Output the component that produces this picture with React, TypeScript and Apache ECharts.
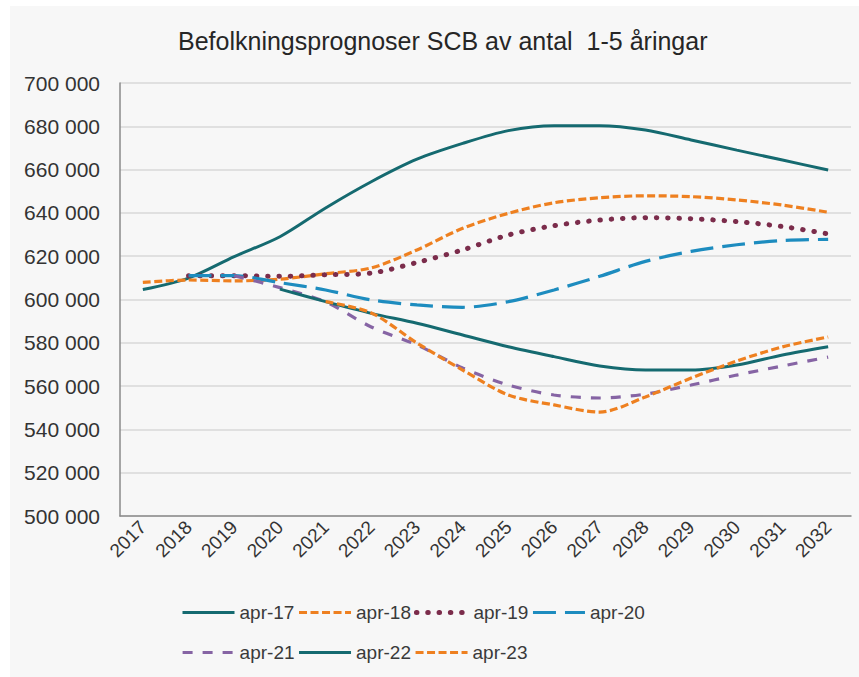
import React, { useEffect, useRef } from "react";
import * as echarts from "echarts";

const years = ["2017","2018","2019","2020","2021","2022","2023","2024","2025","2026","2027","2028","2029","2030","2031","2032"];
const seriesNames = ["apr-17","apr-18","apr-19","apr-20","apr-21","apr-22","apr-23"];

const apr17 = [604600, 609900, 619800, 629000, 642300, 654400, 664800, 672100, 678000, 680300, 680300, 678300, 673700, 669000, 664400, 659800];
const apr18 = [607900, 609000, 608600, 609400, 611900, 614600, 622900, 632900, 639800, 644700, 647000, 647900, 647500, 646000, 643600, 640300];
const apr19 = [null, 611000, 611000, 610700, 611400, 612200, 617100, 622900, 629800, 634100, 636700, 637800, 637300, 636000, 633700, 630300];
const apr20 = [null, 611000, 611000, 607800, 604400, 599800, 597500, 596400, 599000, 604400, 610700, 617600, 622200, 625300, 627200, 627800];
const apr21 = [null, null, 611000, 605500, 598900, 587300, 579000, 568400, 560500, 555900, 554500, 556300, 560500, 565100, 569300, 573400];
const apr22 = [null, null, null, 604800, 599000, 593600, 589000, 583600, 578200, 573600, 569300, 567400, 567400, 569700, 574400, 578200];
const apr23 = [null, null, null, null, 599000, 593800, 579900, 567400, 555900, 551300, 548000, 555000, 563700, 571600, 578100, 582700];

const FONT = "'Liberation Sans', Arial, sans-serif";
const TEAL = "#156a70";
const ORANGE = "#ee8020";
const MAROON = "#7b2c4b";
const BLUE = "#1d8cbf";
const PURPLE = "#8664a4";

const styles: Record<string, { color: string; width: number; type: any; cap: any }> = {
  "apr-17": { color: TEAL, width: 3, type: "solid", cap: "butt" },
  "apr-18": { color: ORANGE, width: 3.2, type: [8, 3.5], cap: "butt" },
  "apr-19": { color: MAROON, width: 5, type: [0.5, 10.8], cap: "round" },
  "apr-20": { color: BLUE, width: 3.2, type: [23, 9], cap: "butt" },
  "apr-21": { color: PURPLE, width: 3.2, type: [10, 10], cap: "butt" },
  "apr-22": { color: TEAL, width: 3, type: "solid", cap: "butt" },
  "apr-23": { color: ORANGE, width: 3.2, type: [8, 3.5], cap: "butt" },
};

export default function App() {
  const ref = useRef<HTMLDivElement>(null);
  useEffect(() => {
    if (!ref.current) return;
    const chart = echarts.init(ref.current, undefined, { renderer: "svg" });
    const mk = (name: string, data: (number | null)[]) => {
      const s = styles[name];
      return {
        name,
        type: "line",
        data,
        smooth: 0.3,
        symbol: "none",
        showSymbol: false,
        connectNulls: false,
        itemStyle: { color: s.color },
        lineStyle: { color: s.color, width: s.width, type: s.type, cap: s.cap },
      };
    };
    const legendItem = (name: string) => {
      const s = styles[name];
      return { name, lineStyle: { color: s.color, width: s.width, type: s.type, cap: s.cap } };
    };
    const legendBase = {
      left: 176,
      itemWidth: 52,
      itemHeight: 14,
      itemGap: 3,
      itemStyle: { opacity: 0 },
      textStyle: { fontFamily: FONT, fontSize: 19, color: "#3a3a3a" },
    };
    chart.setOption({
      animation: false,
      backgroundColor: "transparent",
      title: {
        text: "Befolkningsprognoser SCB av antal  1-5 åringar",
        left: 173,
        top: 23,
        textStyle: { fontFamily: FONT, fontSize: 25, fontWeight: "normal", color: "#262626" },
      },
      legend: [
        { ...legendBase, top: 598, data: seriesNames.slice(0, 4).map(legendItem) },
        { ...legendBase, top: 638, data: seriesNames.slice(4).map(legendItem) },
      ],
      grid: { left: 120, right: 8, top: 83, bottom: 161 },
      xAxis: {
        type: "category",
        data: years,
        boundaryGap: true,
        axisLine: { show: true, lineStyle: { color: "#8a8a8a", width: 1.5 } },
        axisTick: { show: false },
        axisLabel: { rotate: 45, fontFamily: FONT, fontSize: 19, color: "#333", margin: 8, interval: 0 },
      },
      yAxis: {
        type: "value",
        min: 500000,
        max: 700000,
        interval: 20000,
        axisLine: { show: true, lineStyle: { color: "#8a8a8a", width: 1.5 } },
        axisTick: { show: false },
        splitLine: { lineStyle: { color: "#d9d9d9", width: 1.5 } },
        axisLabel: {
          fontFamily: FONT,
          fontSize: 21,
          color: "#333",
          margin: 20,
          formatter: (v: number) => String(v).replace(/\B(?=(\d{3})+(?!\d))/g, " "),
        },
      },
      series: [
        mk("apr-17", apr17),
        mk("apr-18", apr18),
        mk("apr-19", apr19),
        mk("apr-20", apr20),
        mk("apr-21", apr21),
        mk("apr-22", apr22),
        mk("apr-23", apr23),
      ],
    });
    return () => chart.dispose();
  }, []);
  return (
    <div style={{ position: "fixed", left: 0, top: 0, width: 859, height: 677, background: "#ffffff" }}>
      <div style={{ position: "absolute", left: 10, top: 6, width: 849, height: 671, background: "#f7f7f7" }} />
      <div ref={ref} style={{ position: "absolute", left: 0, top: 0, width: 859, height: 677 }} />
    </div>
  );
}
